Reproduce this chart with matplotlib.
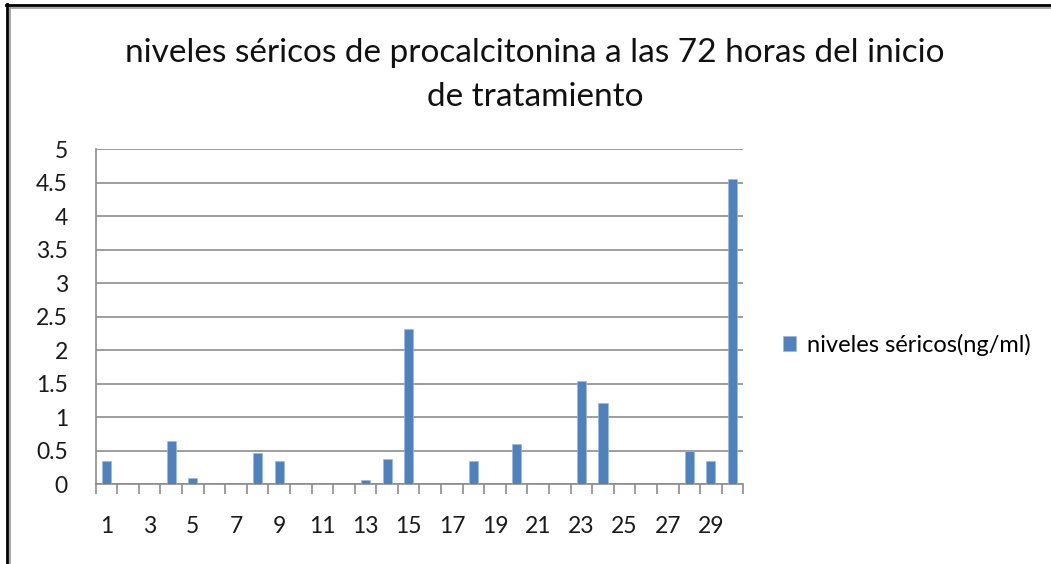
import matplotlib
matplotlib.use("Agg")
import matplotlib.pyplot as plt
from matplotlib.patches import Rectangle
from matplotlib.lines import Line2D
import numpy as np

categories = list(range(1, 31))
values = [0.35, 0, 0, 0.64, 0.10, 0, 0, 0.47, 0.35, 0,
          0, 0, 0.06, 0.37, 2.32, 0, 0, 0.35, 0, 0.60,
          0, 0, 1.54, 1.21, 0, 0, 0, 0.49, 0.35, 4.55]
series_name = "niveles séricos(ng/ml)"
title = "niveles séricos de procalcitonina a las 72 horas del inicio\nde tratamiento"
yticks = [0, 0.5, 1, 1.5, 2, 2.5, 3, 3.5, 4, 4.5, 5]
ytick_labels = ["0", "0.5", "1", "1.5", "2", "2.5", "3", "3.5", "4", "4.5", "5"]

plt.rcParams['font.family'] = ['Lato', 'DejaVu Sans']
W, H = 1051, 564
fig = plt.figure(figsize=(W/100, H/100), dpi=100)
ax = fig.add_axes([95.7/W, 1-484.3/H, (743.3-95.7)/W, (484.3-149)/H])

bar_color = "#4F81BD"
x = np.arange(len(categories))
ax.bar(x, values, width=0.42, color=bar_color, edgecolor="#9DB9DC", linewidth=0.5, zorder=3,
       label=series_name)
ax.set_xlim(-0.5, len(categories) - 0.5)
ax.set_ylim(0, 5)
ax.set_yticks(yticks)
ax.set_yticklabels(ytick_labels)
ax.yaxis.grid(True, color="#8C8C8C", linewidth=1.2, zorder=0)
ax.set_axisbelow(True)

ax.set_xticks(x[::2])
ax.set_xticklabels([str(c) for c in categories[::2]])
ax.tick_params(axis='x', length=0, pad=23, labelsize=16.5, colors="#1a1a1a")
ax.tick_params(axis='y', length=0, pad=20, labelsize=16.5, colors="#1a1a1a")
ax.set_xticks(np.arange(-0.5, len(categories)), minor=True)
ax.tick_params(axis='x', which='minor', length=7, width=1.2, color="#8C8C8C", direction='out')
ax.set_yticks(yticks, minor=True)
ax.tick_params(axis='y', which='minor', length=7, width=1.2, color="#8C8C8C", direction='out')

for s in ['top', 'right']:
    ax.spines[s].set_visible(False)
for s in ['left', 'bottom']:
    ax.spines[s].set_color("#8C8C8C")
    ax.spines[s].set_linewidth(1.2)

fig.text(535/W, 1-75/H, title, ha='center', va='center', fontsize=24,
         linespacing=1.55, color="#111111")

handle = Rectangle((0, 0), 1, 1, facecolor=bar_color, edgecolor="#9DB9DC", linewidth=0.5)
fig.legend([handle], [series_name], loc='center left',
           bbox_to_anchor=(762/W, 1-345/H), frameon=False, fontsize=17,
           handlelength=0.55, handleheight=0.6, handletextpad=0.45)

# outer frame
fig.add_artist(Line2D([7/W, 7/W], [0, 1-4/H], transform=fig.transFigure, color='black', linewidth=2))
fig.add_artist(Line2D([6/W, 1], [1-5/H, 1-5/H], transform=fig.transFigure, color='black', linewidth=2))
fig.add_artist(Line2D([9.5/W, 1], [1-7.5/H, 1-7.5/H], transform=fig.transFigure, color='#A0A0A0', linewidth=1.3))
fig.add_artist(Line2D([9.5/W, 9.5/W], [0, 1-7.5/H], transform=fig.transFigure, color='#A0A0A0', linewidth=1.3))

fig.savefig("out.png", dpi=100)
